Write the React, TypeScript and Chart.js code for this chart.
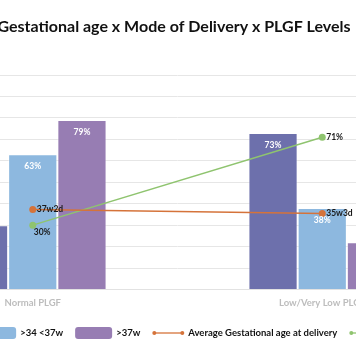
import React, { useEffect, useRef } from "react";
import { Chart, registerables } from "chart.js";
Chart.register(...registerables);

const TITLE = "Gestational age x Mode of Delivery x PLGF Levels";
const categories = ["Normal PLGF", "Low/Very Low PLGF"];
const under34w = [30, 73];
const from34to37w = [63, 38];
const over37w = [79, 22];
const gaWeeks = [37, 35];
const gaDays = [2, 3];
const csectionPct = [30, 71];
const yMin = 0;
const yMax = 100;
const yStep = 10;

const FONT = "Lato, 'Open Sans', sans-serif";

const titlePlugin = {
  id: "centeredTitle",
  afterDraw(chart: any) {
    const ctx = chart.ctx;
    ctx.save();
    ctx.font = `bold 16px ${FONT}`;
    ctx.fillStyle = "#111111";
    ctx.textAlign = "center";
    ctx.textBaseline = "middle";
    ctx.fillText(chart.options.plugins.centeredTitle.text, chart.width / 2, 27);
    ctx.restore();
  },
};

const labelPlugin = {
  id: "valueLabels",
  afterDatasetsDraw(chart: any) {
    const ctx = chart.ctx;
    ctx.save();
    chart.data.datasets.forEach((ds: any, di: number) => {
      const meta = chart.getDatasetMeta(di);
      meta.data.forEach((el: any, i: number) => {
        const text = ds.valueLabels[i];
        if (ds.type === "bar") {
          ctx.font = `bold 8.5px ${FONT}`;
          ctx.fillStyle = "#ffffff";
          ctx.textAlign = "center";
          ctx.textBaseline = "middle";
          ctx.fillText(text, el.x, el.y + 12);
        } else {
          ctx.font = `bold 8.5px ${FONT}`;
          ctx.fillStyle = "#1a1a1a";
          ctx.textBaseline = "middle";
          ctx.textAlign = "left";
          const align = ds.labelAlign[i];
          if (align === "below") ctx.fillText(text, el.x + 1, el.y + 7.5);
          else ctx.fillText(text, el.x + 4, el.y);
        }
      });
    });
    ctx.restore();
  },
};

const legendPlugin = {
  id: "customLegend",
  afterDraw(chart: any) {
    const ctx = chart.ctx;
    ctx.save();
    ctx.font = `bold 9.5px ${FONT}`;
    const boxW = 37, boxH = 12, lineW = 32, markerGap = 4, itemGap = 12;
    const items = chart.data.datasets.map((ds: any) => {
      const tw = ctx.measureText(ds.label).width;
      const mw = ds.type === "bar" ? boxW : lineW;
      return { ds, tw, mw, w: mw + markerGap + tw };
    });
    const total = items.reduce((s: number, it: any) => s + it.w, 0) + itemGap * (items.length - 1);
    let x = (chart.width - total) / 2;
    const y = 333;
    items.forEach((it: any) => {
      const ds = it.ds;
      if (ds.type === "bar") {
        ctx.fillStyle = ds.backgroundColor;
        ctx.beginPath();
        (ctx as any).roundRect(x, y - boxH / 2, boxW, boxH, 3);
        ctx.fill();
      } else {
        ctx.strokeStyle = ds.borderColor;
        ctx.fillStyle = ds.borderColor;
        ctx.lineWidth = 1.3;
        ctx.beginPath();
        ctx.moveTo(x + 2, y);
        ctx.lineTo(x + lineW - 2, y);
        ctx.stroke();
        [x + 2, x + lineW - 2].forEach((cx) => {
          ctx.beginPath();
          ctx.arc(cx, y, 2, 0, Math.PI * 2);
          ctx.fill();
        });
      }
      ctx.fillStyle = "#111111";
      ctx.textAlign = "left";
      ctx.textBaseline = "middle";
      ctx.fillText(ds.label, x + it.mw + markerGap, y);
      x += it.w + itemGap;
    });
    ctx.restore();
  },
};

export default function App() {
  const ref = useRef<HTMLCanvasElement>(null);
  useEffect(() => {
    document.documentElement.style.overflow = "hidden";
    document.body.style.overflow = "hidden";
    const pct = (v: number) => `${v}%`;
    const chart = new Chart(ref.current as HTMLCanvasElement, {
      type: "bar",
      data: {
        labels: categories,
        datasets: [
          { type: "bar", label: "<34w", data: under34w, backgroundColor: "#6d70ac", borderColor: "rgba(255,255,255,0.45)", borderWidth: 1, order: 1, valueLabels: under34w.map(pct) } as any,
          { type: "bar", label: ">34 <37w", data: from34to37w, backgroundColor: "#8db8df", borderColor: "rgba(255,255,255,0.45)", borderWidth: 1, order: 1, valueLabels: from34to37w.map(pct) } as any,
          { type: "bar", label: ">37w", data: over37w, backgroundColor: "#977db3", borderColor: "rgba(255,255,255,0.45)", borderWidth: 1, order: 1, valueLabels: over37w.map(pct) } as any,
          { type: "line", label: "Average Gestational age at delivery", data: gaWeeks.map((w, i) => w + gaDays[i] / 7), borderColor: "#d5733a", backgroundColor: "#d5733a", borderWidth: 1.5, pointRadius: 3.5, pointBackgroundColor: "#d5733a", pointBorderWidth: 0, order: 0, valueLabels: gaWeeks.map((w, i) => `${w}w${gaDays[i]}d`), labelAlign: ["right", "right"] } as any,
          { type: "line", label: "C-Section rate", data: csectionPct, borderColor: "#8fc46f", backgroundColor: "#8fc46f", borderWidth: 1.5, pointRadius: 3.5, pointBackgroundColor: "#8fc46f", pointBorderWidth: 0, order: 0, valueLabels: csectionPct.map(pct), labelAlign: ["below", "right"] } as any,
        ],
      },
      options: {
        animation: false,
        responsive: false,
        layout: { padding: { left: 48, right: 41, top: 75, bottom: 0 } },
        datasets: { bar: { categoryPercentage: 0.51, barPercentage: 1 } },
        plugins: {
          legend: { display: false },
          tooltip: { enabled: false },
          title: { display: false },
          centeredTitle: { text: TITLE },
        },
        scales: {
          x: {
            grid: { display: false, drawTicks: false },
            border: { display: true, color: "#e2e2e2", width: 1 },
            ticks: { color: "#bdbdbd", font: { family: FONT, size: 9.5, weight: "bold" }, padding: 8 },
            afterFit: (s: any) => { s.height = 74.5; },
          },
          y: {
            min: yMin,
            max: yMax,
            ticks: { display: false, stepSize: yStep },
            grid: { color: "#e6e6e6", drawTicks: false, lineWidth: 1 },
            border: { display: false },
            afterFit: (s: any) => { s.width = 0; },
          },
        },
      } as any,
      plugins: [titlePlugin, labelPlugin, legendPlugin],
    });
    return () => chart.destroy();
  }, []);
  return (
    <div style={{ position: "fixed", left: -160, top: 0, width: 668, height: 364, background: "#ffffff" }}>
      <canvas ref={ref} width={668} height={364} style={{ width: 668, height: 364, display: "block" }} />
    </div>
  );
}
